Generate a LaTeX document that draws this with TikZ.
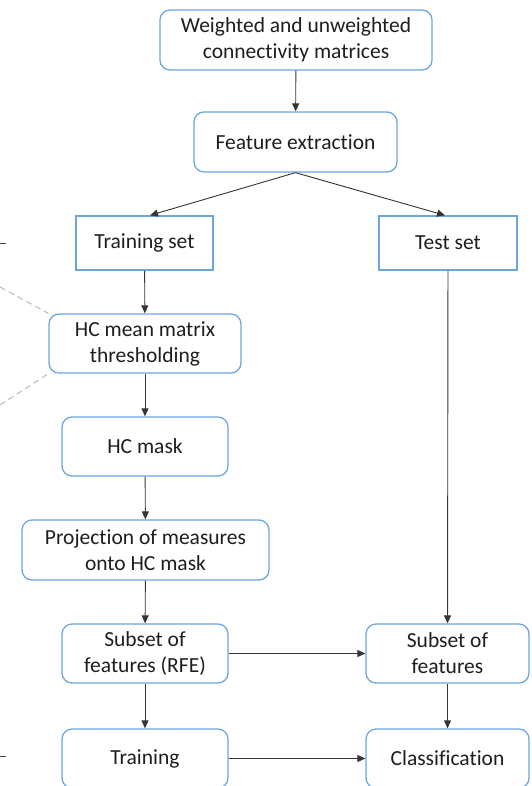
\documentclass[tikz,border=0pt]{standalone}
\usepackage{fontspec}
\setmainfont{Carlito}[Ligatures=NoCommon]
\usetikzlibrary{arrows.meta}
\definecolor{boxblue}{RGB}{110,165,222}
\definecolor{inkgray}{RGB}{30,30,30}
\definecolor{dashgray}{RGB}{185,185,185}
\tikzset{
  flowbox/.style={draw=boxblue, line width=1.3pt, fill=white, rounded corners=10pt,
    align=center, text=inkgray, font=\fontsize{21.5}{26}\selectfont, inner sep=0pt},
  setbox/.style={flowbox, rounded corners=0pt},
  flow/.style={draw=inkgray!90, line width=0.9pt, -{Triangle[length=8pt,width=7pt]}},
  side/.style={draw=dashgray, line width=1pt, dash pattern=on 6pt off 4pt},
  tick/.style={draw=inkgray!80, line width=0.9pt}
}
\begin{document}
\begin{tikzpicture}[x=1pt, y=-1pt]
  \useasboundingbox (0,0) rectangle (531,786);
  \clip (0,0) rectangle (531,786);

  % main column of steps
  \node[flowbox, minimum width=272pt, minimum height=60pt] (mat) at (296,40)
    {Weighted and unweighted\\connectivity matrices};
  \node[flowbox, minimum width=203pt, minimum height=60pt] (feat) at (295.5,142)
    {Feature extraction};
  \node[setbox, minimum width=137pt, minimum height=54pt] (train) at (144.5,243)
    {Training set};
  \node[setbox, minimum width=138pt, minimum height=54pt] (test) at (448,243)
    {Test set};
  \node[flowbox, minimum width=192pt, minimum height=59pt] (thr) at (145,343.5)
    {HC mean matrix\\thresholding};
  \node[flowbox, minimum width=166pt, minimum height=59pt] (mask) at (145,446.5)
    {HC mask};
  \node[flowbox, minimum width=247pt, minimum height=60pt] (proj) at (145.5,550)
    {Projection of measures\\onto HC mask};
  \node[flowbox, minimum width=166pt, minimum height=59pt] (rfe) at (145,653.5)
    {Subset of\\features (RFE)};
  \node[flowbox, minimum width=166pt, minimum height=59pt] (fit) at (145,758.5)
    {Training};
  \node[flowbox, minimum width=163pt, minimum height=59pt] (sub) at (447.5,653.5)
    {Subset of\\features};
  \node[flowbox, minimum width=163pt, minimum height=59pt] (cls) at (447.5,758.5)
    {Classification};

  % connectors
  \draw[flow] (mat) -- (feat);
  \draw[flow] (feat.south) -- (train.north -| 150,0);
  \draw[flow] (feat.south) -- (test.north -| 445,0);
  \draw[flow] (train) -- (thr);
  \draw[flow] (thr) -- (mask);
  \draw[flow] (mask) -- (proj);
  \draw[flow] (proj) -- (rfe);
  \draw[flow] (rfe) -- (fit);
  \draw[flow] (test) -- (sub);
  \draw[flow] (sub) -- (cls);
  \draw[flow] (rfe) -- (sub);
  \draw[flow] (fit) -- (cls);

  % marks entering from the left margin
  \coordinate (tickA) at (0,243);
  \coordinate (tickB) at (0,756);
  \coordinate (dashA) at (0,287);
  \coordinate (dashB) at (0,405);
  \draw[tick] (tickA) -- ++(6,0);
  \draw[tick] (tickB) -- ++(6,0);
  \draw[side] (dashA) -- (thr.north west);
  \draw[side] (dashB) -- (thr.south west);
\end{tikzpicture}
\end{document}
